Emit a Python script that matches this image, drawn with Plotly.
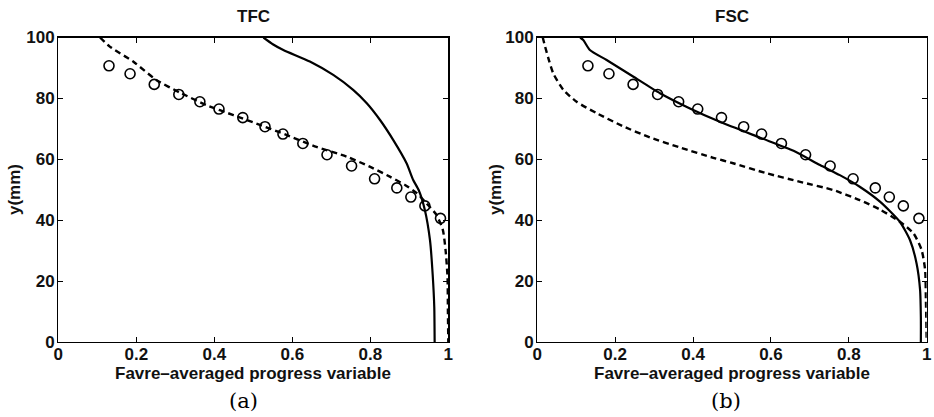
import plotly.graph_objects as go

W, H = 934, 417

# Experimental data (circles), same in both panels
exp_x = [0.130, 0.184, 0.246, 0.309, 0.363, 0.412, 0.473, 0.530, 0.576, 0.627,
         0.689, 0.752, 0.811, 0.868, 0.904, 0.940, 0.980]
exp_y = [90.7, 88.1, 84.6, 81.3, 78.9, 76.5, 73.7, 70.7, 68.3, 65.2,
         61.5, 57.8, 53.6, 50.6, 47.6, 44.7, 40.6]

# TFC panel
tfc_solid_x = [0.526, 0.550, 0.577, 0.645, 0.705, 0.756, 0.791, 0.825, 0.859, 0.893,
               0.910, 0.924, 0.940, 0.953, 0.960, 0.964, 0.965]
tfc_solid_y = [100, 97.8, 95.9, 92.1, 87.7, 82.8, 78.4, 72.9, 66.3, 58.7,
               53.2, 49.9, 43.3, 33.5, 22.0, 11.6, 0]
tfc_dash_x = [0.107, 0.132, 0.192, 0.252, 0.312, 0.380, 0.449, 0.517, 0.585, 0.662,
              0.739, 0.800, 0.850, 0.890, 0.920, 0.945, 0.970, 0.986, 0.993, 0.998,
              0.999, 1.0]
tfc_dash_y = [100, 97.0, 92.1, 86.0, 81.9, 77.8, 74.5, 71.3, 68.0, 64.1,
              60.9, 57.5, 54.3, 51.5, 48.8, 45.4, 41.7, 36.8, 30.2, 21.4,
              10.0, 0]

# FSC panel
fsc_solid_x = [0.110, 0.118, 0.135, 0.178, 0.247, 0.315, 0.392, 0.469, 0.572, 0.658,
               0.726, 0.777, 0.828, 0.880, 0.931, 0.957, 0.974, 0.983, 0.985, 0.985]
fsc_solid_y = [100, 99.2, 95.9, 92.6, 87.1, 81.7, 76.7, 72.3, 67.1, 62.8,
               58.1, 54.8, 51.0, 46.1, 39.5, 33.5, 25.8, 17.1, 8.0, 0]
fsc_dash_x = [0.014, 0.020, 0.030, 0.041, 0.067, 0.101, 0.153, 0.221, 0.289, 0.366,
              0.452, 0.503, 0.589, 0.675, 0.760, 0.828, 0.880, 0.931, 0.966, 0.987,
              0.996, 0.998, 1.0]
fsc_dash_y = [100, 97.0, 92.5, 88.2, 82.8, 78.9, 75.1, 70.8, 67.2, 63.9,
              60.5, 58.7, 55.4, 52.6, 49.9, 46.6, 43.5, 39.5, 35.7, 30.2,
              23.6, 13.8, 0]

x_ticks = [0, 0.2, 0.4, 0.6, 0.8, 1]
x_ticklabels = ["0", "0.2", "0.4", "0.6", "0.8", "1"]
y_ticks = [0, 20, 40, 60, 80, 100]
y_ticklabels = ["0", "20", "40", "60", "80", "100"]
titles = ["TFC", "FSC"]
subcaptions = ["(a)", "(b)"]
x_title = "Favre\u2013averaged progress variable"
y_title = "y(mm)"

# Layout in pixels
top_px, bot_px = 37.5, 342.0
panels_px = [(58.3, 448.3), (537.3, 926.7)]

def px(x):
    return x / W

def py(y):
    return 1 - y / H

fig = go.Figure()

font_bold = dict(family="Liberation Sans", size=17, color="#111111", weight="bold")

series = [
    (tfc_solid_x, tfc_solid_y, tfc_dash_x, tfc_dash_y),
    (fsc_solid_x, fsc_solid_y, fsc_dash_x, fsc_dash_y),
]

for i, (sx, sy, dx, dy) in enumerate(series):
    xa = "x" if i == 0 else "x2"
    ya = "y" if i == 0 else "y2"
    fig.add_trace(go.Scatter(x=sx, y=sy, mode="lines", xaxis=xa, yaxis=ya,
                             line=dict(color="black", width=2.2, shape="spline", smoothing=0.6),
                             showlegend=False))
    fig.add_trace(go.Scatter(x=dx, y=dy, mode="lines", xaxis=xa, yaxis=ya,
                             line=dict(color="black", width=2.4, dash="6px,4px",
                                       shape="spline", smoothing=0.6),
                             showlegend=False))
    fig.add_trace(go.Scatter(x=exp_x, y=exp_y, mode="markers", xaxis=xa, yaxis=ya,
                             marker=dict(symbol="circle-open", size=10, color="black",
                                         line=dict(width=1.6, color="black")),
                             showlegend=False, cliponaxis=False))

axis_common = dict(showgrid=False, zeroline=False, showline=True, linecolor="black",
                   linewidth=1.2, mirror="ticks", ticks="inside", ticklen=5,
                   tickcolor="black", tickwidth=1, tickfont=font_bold, automargin=False)

layout = dict(width=W, height=H, margin=dict(l=0, r=0, t=0, b=0, pad=0, autoexpand=False),
              paper_bgcolor="white", plot_bgcolor="white", showlegend=False,
              template="none")

for i, (x0, x1) in enumerate(panels_px):
    sfx = "" if i == 0 else "2"
    layout["xaxis" + sfx] = dict(domain=[px(x0), px(x1)], range=[0, 1],
                                 tickvals=x_ticks, ticktext=x_ticklabels,
                                 anchor="y" + sfx, ticklabelstandoff=-4, **axis_common)
    layout["yaxis" + sfx] = dict(domain=[py(bot_px), py(top_px)], range=[0, 100],
                                 tickvals=y_ticks, ticktext=y_ticklabels,
                                 anchor="x" + sfx, ticklabelstandoff=-1, **axis_common)

fig.update_layout(**layout)

annotations = []
centers_title = [253, 732]
centers_sub = [243, 726]
ytitle_x = [14, 495]
for i in range(2):
    annotations.append(dict(text=titles[i], x=px(centers_title[i]), y=py(17), xref="paper", yref="paper",
                            showarrow=False, xanchor="center", yanchor="middle", font=font_bold))
    annotations.append(dict(text=x_title, x=px(centers_title[i]), y=py(373), xref="paper", yref="paper",
                            showarrow=False, xanchor="center", yanchor="middle", font=font_bold))
    annotations.append(dict(text=y_title, x=px(ytitle_x[i]), y=py(190), xref="paper", yref="paper",
                            showarrow=False, xanchor="center", yanchor="middle", textangle=-90,
                            font=font_bold))
    annotations.append(dict(text=subcaptions[i], x=px(centers_sub[i]), y=py(401), xref="paper", yref="paper",
                            showarrow=False, xanchor="center", yanchor="middle",
                            font=dict(family="DejaVu Serif", size=21, color="black")))
fig.update_layout(annotations=annotations)

fig.write_html("out.html", config={"displayModeBar": False, "staticPlot": True},
               post_script="document.body.style.margin='0';document.body.style.overflow='hidden';")
